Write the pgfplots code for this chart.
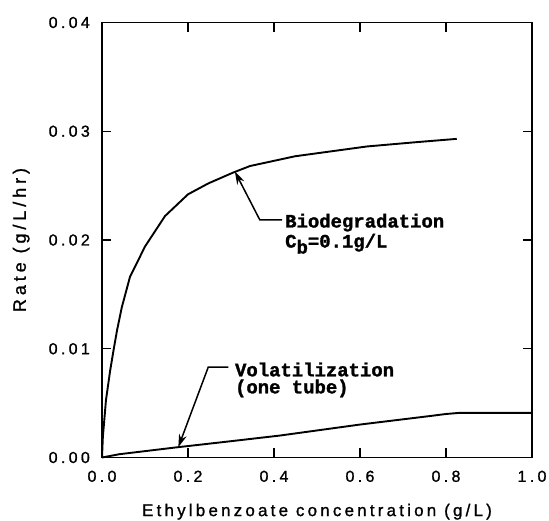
\documentclass[border=0pt]{standalone}
\usepackage{fontspec}
\usepackage{pgfplots}
\pgfplotsset{compat=1.18}
\usetikzlibrary{arrows.meta}
\setmainfont{Liberation Sans}
\newfontfamily\tickfont[LetterSpace=21, FakeBold=1.2]{Liberation Sans}
\newfontfamily\xlabfont[LetterSpace=19, FakeBold=1.2]{Liberation Sans}
\newfontfamily\ylabfont[LetterSpace=22, FakeBold=1.2]{Liberation Sans}
\newfontfamily\annfont[FakeBold=1.5]{Liberation Mono}

% biodegradation rate, Cb = 0.1 g/L
\pgfplotstableread{
x y
0 0
0.002 0.0019
0.0093 0.0053
0.019 0.0080
0.027 0.0099
0.035 0.0117
0.046 0.0138
0.065 0.0166
0.10 0.0194
0.1465 0.0222
0.20 0.0242
0.247 0.0252
0.305 0.0262
0.344 0.0268
0.449 0.0277
0.616 0.0286
0.732 0.0290
0.825 0.0293
}\biodata

% volatilization rate, one tube
\pgfplotstableread{
x y
0 0
0.04 0.0003
0.177 0.00095
0.30 0.00150
0.414 0.00202
0.60 0.00303
0.76 0.00380
0.80 0.00400
0.83 0.00410
1.0 0.00410
}\voldata

\begin{document}
\begin{tikzpicture}
\begin{axis}[
  at={(0,0)}, anchor=south west,
  width=430bp, height=435bp, scale only axis,
  xmin=0, xmax=1, ymin=0, ymax=0.04,
  xtick={0,0.2,0.4,0.6,0.8,1},
  ytick={0,0.01,0.02,0.03,0.04},
  scaled y ticks=false, scaled x ticks=false,
  minor tick num=0,
  major tick length=9bp,
  tick align=inside,
  axis line style={line width=1.3bp},
  every tick/.style={line width=1.2bp, black},
  /pgf/number format/assume math mode=true,
  tick label style={font=\tickfont\fontsize{16}{16}\selectfont, inner sep=0pt},
  xticklabel style={/pgf/number format/.cd, fixed, fixed zerofill, precision=1},
  yticklabel style={/pgf/number format/.cd, fixed, fixed zerofill, precision=2},
  xticklabel shift=13bp,
  yticklabel shift=12bp,
  xlabel={Ethylbenzoate concentration (g/L)},
  ylabel={Rate (g/L/hr)},
  xlabel style={font=\xlabfont\fontsize{17}{17}\selectfont, inner sep=0pt,
    at={(axis description cs:0.5,-0.106)}, anchor=north},
  ylabel style={font=\ylabfont\fontsize{18}{18}\selectfont, inner sep=0pt,
    at={(axis description cs:-0.188,0.5)}, anchor=center},
  clip=false,
]
\addplot[black, line width=1.9bp] table[x=x, y=y] {\biodata};
\addplot[black, line width=1.9bp] table[x=x, y=y] {\voldata};

% annotation: biodegradation
\draw[line width=1.5bp, -{Stealth[length=13bp, width=8bp]}]
  (axis cs:0.419,0.02185) -- (axis cs:0.367,0.02185) -- (axis cs:0.309,0.0263);
\node[anchor=base west, inner sep=0pt, font=\annfont\bfseries\fontsize{19}{19}\selectfont]
  at (axis cs:0.4256,0.02115) {Biodegradation};
\node[anchor=base west, inner sep=0pt, font=\annfont\bfseries\fontsize{19}{19}\selectfont]
  at (axis cs:0.4256,0.01931) {C\raisebox{-6bp}{b}=0.1g/L};

% annotation: volatilization
\draw[line width=1.5bp, -{Stealth[length=13bp, width=8bp]}]
  (axis cs:0.294,0.0083) -- (axis cs:0.247,0.0083) -- (axis cs:0.1775,0.00095);
\node[anchor=base west, inner sep=0pt, font=\annfont\bfseries\fontsize{19}{19}\selectfont]
  at (axis cs:0.309,0.00747) {Volatilization};
\node[anchor=base west, inner sep=0pt, font=\annfont\bfseries\fontsize{19}{19}\selectfont]
  at (axis cs:0.309,0.0059) {(one tube)};
\end{axis}
\useasboundingbox (-102bp,-63.5bp) rectangle (447bp,457.5bp);
\end{tikzpicture}
\end{document}
